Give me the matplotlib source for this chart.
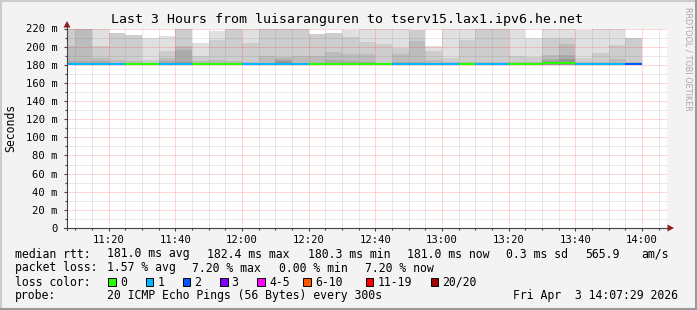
import matplotlib
matplotlib.use('Agg')
import matplotlib.pyplot as plt
import matplotlib.dates as mdates
from matplotlib.patches import Rectangle, Polygon
from matplotlib.lines import Line2D
from matplotlib.ticker import FixedLocator, FuncFormatter
from datetime import datetime, timedelta

W, H = 697, 310
MONO = 'DejaVu Sans Mono'

# 5 minute rounds, first one partly outside the window
t0 = datetime(2026, 4, 3, 11, 5)
bar_start = [t0 + timedelta(minutes=5 * i) for i in range(35)]
t_from = datetime(2026, 4, 3, 11, 7, 29)
t_to = datetime(2026, 4, 3, 14, 7, 29)

# median rtt per round (ms) and lost pings per round
median_ms = [181.0, 181.0, 181.0, 181.0, 181.0, 181.0, 181.0, 181.0, 181.0, 181.0,
             181.0, 181.0, 181.0, 181.0, 181.0, 181.0, 181.0, 181.0, 181.0, 181.0,
             181.0, 181.0, 181.0, 181.0, 181.0, 181.0, 181.0, 181.0, 181.0, 181.7,
             182.4, 181.0, 181.0, 181.0, 181.0]
lost = [1, 1, 1, 1, 0, 0, 1, 1, 0, 0, 0, 1, 1, 1, 1, 0, 0, 0, 0, 0,
        1, 1, 1, 1, 0, 1, 1, 0, 0, 0, 0, 1, 1, 1, 2]

# smoke: upper edge of each band (ms), outer band first
smoke_min = 180.3
smoke_1 = [230, 230, 230, 215.5, 213, 210, 211.7, 230, 203.7, 217, 230, 230, 230, 230, 230,
           213.5, 215, 218.5, 230, 230, 230, 218.5, 201, 230, 230, 230, 230, 230, 209, 220,
           220, 218.5, 230, 230, 209.3]
smoke_2 = [230, 230, 201, 215.5, 213, 185, 195.5, 230, 189.5, 207, 230, 203.5, 230, 230, 230,
           213.5, 215, 211, 205.5, 203, 199, 218.5, 194.8, 188, 207.4, 230, 230, 189.6, 189, 210,
           210, 187, 192.6, 201.9, 209.3]
smoke_3 = [201, 230, 188, 185, 184, 182.5, 188, 201, 184.5, 185, 184, 183, 190, 189, 190,
           190, 194.5, 192, 192, 182.5, 192, 206.7, 185, 183, 183, 183, 183, 183, 183, 190.7,
           203, 183, 183, 186, 183]
smoke_4 = [184, 184, 184.5, 182.5, 182, 181.5, 184, 196, 182, 182.5, 182, 182, 182.5, 186, 182.5,
           182.5, 185, 184, 183, 181.5, 183, 183, 182, 181.5, 181.5, 181.5, 181.5, 181.5, 181.5, 186,
           190.7, 181.5, 181.5, 182.5, 181.5]
smoke_5 = [181.5, 181.5, 182, 181.5, 181.5, 181, 182, 183, 181.5, 181.5, 181.5, 181.5, 181.5, 184, 181.5,
           181.5, 182, 181.5, 181.5, 181, 181.5, 181.5, 181.5, 181, 181, 181, 181, 181, 181, 184,
           186, 181, 181, 181.5, 181]
smoke_colors = ['#e0e0e0', '#cdcdcd', '#bcbcbc', '#ababab', '#969696']

loss_labels = ['0', '1', '2', '3', '4-5', '6-10', '11-19', '20/20']
loss_colors = ['#26ff00', '#00b8ff', '#0059ff', '#7e00ff', '#ff00ff', '#ff5500', '#ff0000', '#a10000']

y_major = [0, 20, 40, 60, 80, 100, 120, 140, 160, 180, 200, 220]


def ftext(x, y, s, **kw):
    kw.setdefault('family', MONO)
    kw.setdefault('fontsize', 8.3)
    kw.setdefault('va', 'center')
    kw.setdefault('color', '#000000')
    fig.text(x / W, 1 - y / H, s, **kw)


def px(x, y):
    return (x / W, 1 - y / H)


fig = plt.figure(figsize=(W / 100, H / 100), dpi=100, facecolor='#f3f3f3')
ax = fig.add_axes([67 / W, (H - 228) / H, 600 / W, 199.5 / H])
ax.set_facecolor('white')

xs = mdates.date2num(bar_start)
bw = 5 / 1440
for lv, col in zip([smoke_1, smoke_2, smoke_3, smoke_4, smoke_5], smoke_colors):
    ax.bar(xs, [v - smoke_min for v in lv], bottom=smoke_min, width=bw, align='edge',
           color=col, linewidth=0, zorder=2)

# grid, dotted 1px on / 1px off
minor_col = (0.45, 0.45, 0.45, 0.32)
major_col = (1, 0, 0, 0.31)
gkw = dict(lw=0.72, ls=(0, (1, 1)), zorder=3)
minor_t = [datetime(2026, 4, 3, 11, 10) + timedelta(minutes=5 * i) for i in range(36)]
major_t = [t for t in minor_t if t.minute % 20 == 0]
for t in minor_t:
    if t not in major_t:
        ax.axvline(t, color=minor_col, **gkw)
for v in range(10, 221, 20):
    ax.axhline(v, color=minor_col, **gkw)
for t in major_t:
    ax.axvline(t, color=major_col, **gkw)
for v in y_major[1:]:
    ax.axhline(v, color=major_col, **gkw)

# median line coloured by loss
for x, m, n in zip(xs, median_ms, lost):
    ax.hlines(m, x, x + bw, color=loss_colors[n], lw=1.5, zorder=4)

ax.set_xlim(t_from, t_to)
ax.set_ylim(0, 220)
ax.xaxis.set_major_locator(FixedLocator(mdates.date2num(major_t)))
ax.xaxis.set_major_formatter(mdates.DateFormatter('%H:%M'))
ax.xaxis.set_minor_locator(FixedLocator(mdates.date2num(minor_t)))
ax.yaxis.set_major_locator(FixedLocator(y_major))
ax.yaxis.set_minor_locator(FixedLocator(list(range(10, 220, 20))))
ax.yaxis.set_major_formatter(FuncFormatter(lambda v, p: '0' if v == 0 else '%d m' % v))
ax.tick_params(which='major', length=2.5, width=0.8, color='#444444', pad=2.5,
               labelsize=7.6, labelfontfamily=MONO)
ax.tick_params(which='minor', length=1.5, width=0.8, color='#444444')
ax.tick_params(axis='y', pad=4)
for s in ['top', 'right', 'left', 'bottom']:
    ax.spines[s].set_visible(False)

# axes with arrows
fig.add_artist(Line2D([67 / W, 67 / W], [1 - 230 / H, 1 - 25 / H], color='#444444', lw=0.8))
fig.add_artist(Line2D([64 / W, 669 / W], [1 - 228 / H, 1 - 228 / H], color='#444444', lw=0.8))
fig.add_artist(Polygon([px(63.5, 27.5), px(70.5, 27.5), px(67, 21)], closed=True,
                       transform=fig.transFigure, facecolor='#9b1b1b', edgecolor='none'))
fig.add_artist(Polygon([px(667.5, 224.5), px(667.5, 231.5), px(674, 228)], closed=True,
                       transform=fig.transFigure, facecolor='#9b1b1b', edgecolor='none'))

# frame
fig.add_artist(Line2D([0.5 / W, 0.5 / W], [0, 1], color='#cccccc', lw=1.5))
fig.add_artist(Line2D([0, 1], [1 - 0.5 / H, 1 - 0.5 / H], color='#cccccc', lw=1.5))
fig.add_artist(Line2D([1 - 1 / W, 1 - 1 / W], [0, 1], color='#9a9a9a', lw=1.5))
fig.add_artist(Line2D([0, 1], [1 / H, 1 / H], color='#9a9a9a', lw=1.5))

ftext(347.3, 19.5, 'Last 3 Hours from luisaranguren to tserv15.lax1.ipv6.he.net',
      ha='center', fontsize=9.5)
ftext(11, 127.5, 'Seconds', ha='center', rotation=90)
ftext(688, 59, 'RRDTOOL / TOBI OETIKER', ha='center', rotation=270,
      family='DejaVu Sans', fontsize=5.9, color='#a6a6a6')

# legend rows
rows = [
    (254, [('median rtt:', 16), ('181.0 ms avg', 107.3), ('182.4 ms max', 207.3),
           ('180.3 ms min', 308.3), ('181.0 ms now', 407.7), ('0.3 ms sd', 506.7),
           ('565.9', 586), ('am/s', 641.7)]),
    (268, [('packet loss:', 16), ('1.57 % avg', 107.3), ('7.20 % max', 192.7),
           ('0.00 % min', 279.3), ('7.20 % now', 365.7)]),
    (282, [('loss color:', 16)]),
    (296, [('probe:', 16), ('20 ICMP Echo Pings (56 Bytes) every 300s', 107.3),
           ('Fri Apr  3 14:07:29 2026', 513.3)]),
]
for y, items in rows:
    for s, x in items:
        ftext(x - 0.7, y, s, ha='left')

box_x = [108.3, 145.7, 182.7, 220, 257.3, 303.3, 365.7, 430.7]
for bx, lab, col in zip(box_x, loss_labels, loss_colors):
    fig.add_artist(Rectangle(px(bx, 285.5), 7.7 / W, 7.7 / H, transform=fig.transFigure,
                             facecolor=col, edgecolor='black', lw=0.7))
    ftext(bx + 12.4 - 0.7, 282, lab, ha='left')

fig.savefig('out.png', dpi=100, facecolor=fig.get_facecolor())
